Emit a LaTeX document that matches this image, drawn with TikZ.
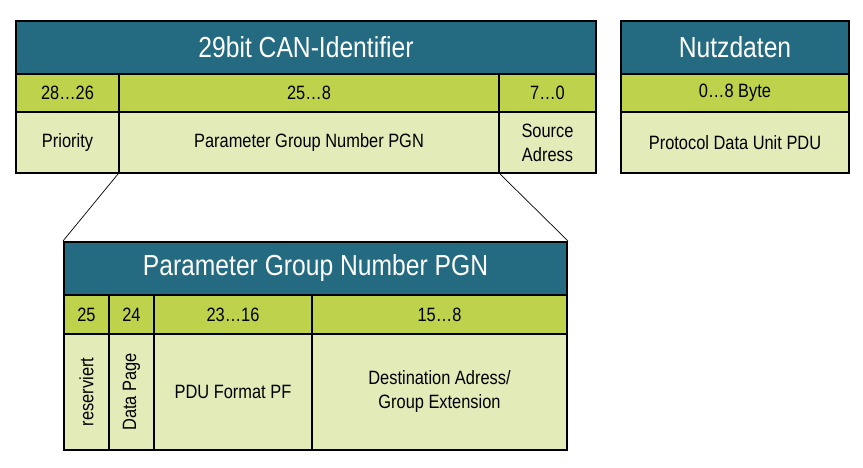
\documentclass[tikz,border=0pt]{standalone}
\usepackage{fontspec}
\setmainfont[FakeStretch=0.85]{Liberation Sans}
\definecolor{canteal}{RGB}{36,106,129}
\definecolor{bitgreen}{RGB}{190,210,75}
\definecolor{fieldgreen}{RGB}{227,235,185}

\begin{document}
\begin{tikzpicture}[
        x=1pt, y=-1pt,
        cell/.style= {
            draw, line width=2pt, anchor=north west, inner sep=0pt,
            align=center
        },
        head/.style= {
            cell, fill=canteal, text=white, minimum height=53pt,
            font=\fontsize{29}{29}\selectfont
        },
        bits/.style= {
            cell, fill=bitgreen, minimum height=38pt,
            font=\fontsize{19.3}{24}\selectfont
        },
        field/.style= {
            cell, fill=fieldgreen,
            font=\fontsize{19.3}{24}\selectfont
        },
        zoomline/.style= {
            draw, black, line width=0.7pt
        },
        ]
        \useasboundingbox (0,0) rectangle (863,468);
        % 29bit identifier
        \node [head, minimum width=580pt] (canhead) at (15,20) {29bit CAN-Identifier};
        \node [bits, minimum width=103pt] (bitsprio) at (15,73) {28…26};
        \node [bits, minimum width=380pt] (bitspgn) at (118,73) {25…8};
        \node [bits, minimum width=97pt] (bitssrc) at (498,73) {7…0};
        \node [field, minimum width=103pt, minimum height=61pt] (prio) at (15,111) {Priority};
        \node [field, minimum width=380pt, minimum height=61pt] (pgn) at (118,111) {Parameter Group Number PGN};
        \node [field, minimum width=97pt, minimum height=61pt] (src) at (498,111) {Source\\Adress};
        % payload
        \node [head, minimum width=228pt] (datahead) at (620,20) {Nutzdaten};
        \node [bits, minimum width=228pt] (bitsdata) at (620,73) {0…8 Byte};
        \node [field, minimum width=228pt, minimum height=61pt] (pdu) at (620,111) {Protocol Data Unit PDU};
        % PGN detail
        \node [head, minimum width=503pt] (pgnhead) at (63,241) {Parameter Group Number PGN};
        \node [bits, minimum width=45pt, minimum height=39pt] (bitsres) at (63,294) {25};
        \node [bits, minimum width=45pt, minimum height=39pt] (bitsdp) at (108,294) {24};
        \node [bits, minimum width=158pt, minimum height=39pt] (bitspf) at (153,294) {23…16};
        \node [bits, minimum width=255pt, minimum height=39pt] (bitsps) at (311,294) {15…8};
        \node [field, minimum width=45pt, minimum height=116pt] (res) at (63,333) {\rotatebox{90}{reserviert}};
        \node [field, minimum width=45pt, minimum height=116pt] (dp) at (108,333) {\rotatebox{90}{Data Page}};
        \node [field, minimum width=158pt, minimum height=116pt] (pf) at (153,333) {PDU Format PF};
        \node [field, minimum width=255pt, minimum height=116pt] (ps) at (311,333) {Destination Adress/\\Group Extension};
        \draw [zoomline] (pgn.south west) -- (pgnhead.north west);
        \draw [zoomline] (pgn.south east) -- (pgnhead.north east);
    \end{tikzpicture}
\end{document}
